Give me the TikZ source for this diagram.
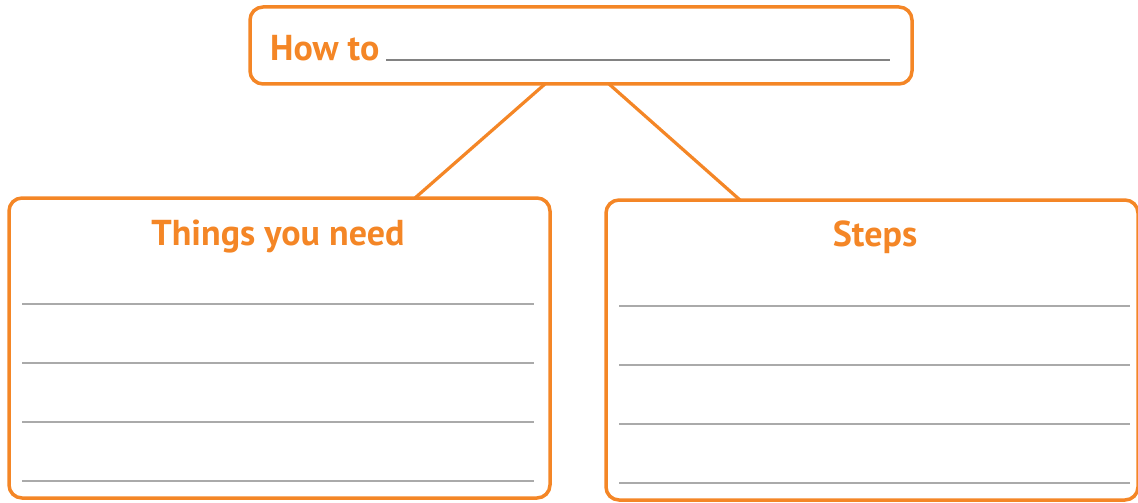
\documentclass[tikz,border=0pt]{standalone}
\usepackage{fontspec}
\setmainfont{PT Sans}
\definecolor{orangec}{RGB}{244,134,38}
\definecolor{linegray}{RGB}{170,170,170}
\definecolor{topgray}{RGB}{130,130,130}
\begin{document}
\begin{tikzpicture}[x=1pt,y=1pt,
  boxc/.style={draw=orangec,line width=3.5pt,rounded corners=13pt,inner sep=0pt,outer sep=0pt},
  conn/.style={draw=orangec,line width=3.2pt},
  ttl/.style={text=orangec,font=\fontsize{36}{40}\selectfont\bfseries,inner sep=0pt,anchor=base},
  wline/.style={draw=linegray,line width=1.3pt},
  tline/.style={draw=topgray,line width=1.3pt}]
\useasboundingbox (0,0) rectangle (1138,-503);
% boxes
\node[boxc,minimum width=662pt,minimum height=77pt] (top) at (581,-45.5) {};
\node[boxc,minimum width=541pt,minimum height=300pt] (left) at (279.5,-348) {};
\node[boxc,minimum width=532pt,minimum height=300pt] (right) at (872,-350) {};
% connectors
\draw[conn] ([xshift=-36pt]top.south) -- ([xshift=135.5pt]left.north);
\draw[conn] ([xshift=28pt]top.south) -- ([xshift=-132pt]right.north);
% titles
\node[ttl,anchor=base west] (howto) at (270,-61) {How to};
\coordinate (hl1) at (386,-60);
\coordinate (hl2) at (890,-60);
\draw[tline] (hl1) -- (hl2);
\node[ttl] (things) at (278,-245) {Things you need};
\node[ttl] (steps) at (875,-246) {Steps};
% writing lines
\foreach \y [count=\i] in {304,363,422,481}{
  \coordinate (la\i) at (22,-\y);
  \coordinate (lb\i) at (534,-\y);
  \draw[wline] (la\i) -- (lb\i);
}
\foreach \y [count=\i] in {306,365,424,483}{
  \coordinate (ra\i) at (619,-\y);
  \coordinate (rb\i) at (1130,-\y);
  \draw[wline] (ra\i) -- (rb\i);
}
\end{tikzpicture}
\end{document}
